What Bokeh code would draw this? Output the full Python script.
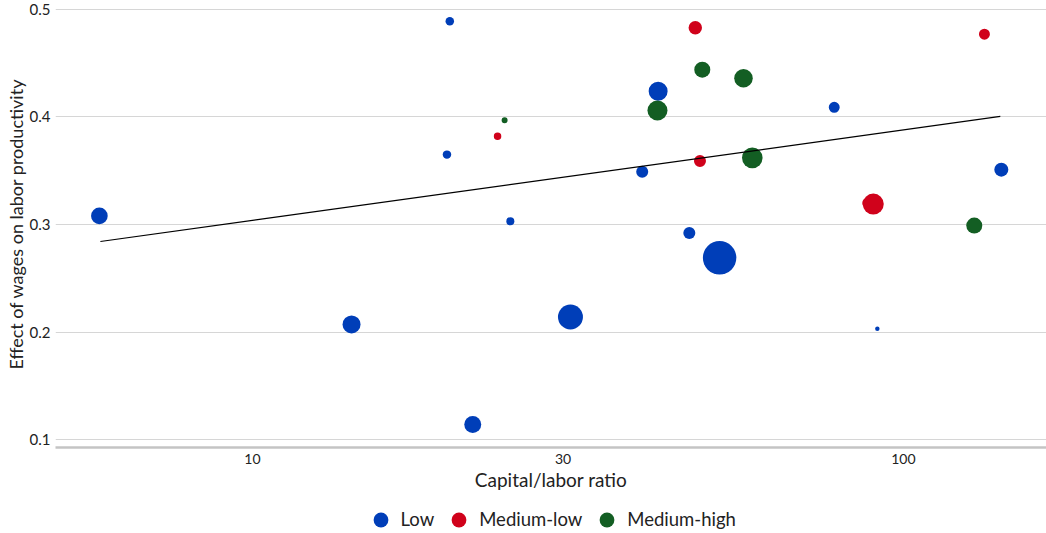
import numpy as np
from bokeh.plotting import figure
from bokeh.layouts import column
from bokeh.models import (ColumnDataSource, FixedTicker, NumeralTickFormatter, Legend,
                          LegendItem, Range1d)
from bokeh.embed import file_html
from bokeh.resources import INLINE

# ---- data ----
low_x = [5.82, 14.2, 20.1, 19.9, 21.8, 24.9, 30.8, 39.7, 42.0, 46.9, 52.2, 78.3, 91.2, 141.4]
low_y = [0.308, 0.207, 0.489, 0.365, 0.114, 0.303, 0.214, 0.349, 0.424, 0.292, 0.269, 0.409, 0.203, 0.351]
low_w = [69, 81, 18, 18, 72, 16, 156, 36, 90, 36, 280, 30, 5, 49]

medlow_x = [47.9, 23.8, 48.7, 88.0, 89.9, 133.2]
medlow_y = [0.483, 0.382, 0.359, 0.320, 0.319, 0.477]
medlow_w = [45, 14, 36, 25, 110, 30]

medhigh_x = [24.4, 41.9, 49.1, 56.8, 58.6, 128.5]
medhigh_y = [0.397, 0.406, 0.444, 0.436, 0.362, 0.299]
medhigh_w = [9, 100, 64, 86, 106, 64]

trend_x = [5.84, 140.9]
trend_y = [0.2842, 0.4005]

categories = ["Low", "Medium-low", "Medium-high"]
x_ticks = [10, 30, 100]
y_ticks = [0.1, 0.2, 0.3, 0.4, 0.5]

FONT = "Lato"
COLORS = ["#003EB8", "#D0021B", "#135E23"]
TXT = "#222222"

p = figure(width=1046, height=500, x_axis_type="log", output_backend="svg",
           toolbar_location=None, min_border_left=55, min_border_right=0,
           min_border_top=0, min_border_bottom=53)
p.x_range = Range1d(4.983, 165.9)
p.y_range = Range1d(0.09256, 0.50837)
p.outline_line_color = None
p.background_fill_color = "white"


def src(xs, ys, ws):
    return ColumnDataSource(dict(x=xs, y=ys, d=[2 * np.sqrt(w) for w in ws]))


groups = [(low_x, low_y, low_w), (medlow_x, medlow_y, medlow_w),
          (medhigh_x, medhigh_y, medhigh_w)]
for (gx, gy, gw), c in zip(groups, COLORS):
    p.scatter("x", "y", size="d", source=src(gx, gy, gw), fill_color=c, line_color=None)
p.line(trend_x, trend_y, line_color="black", line_width=1.2)

# axes
p.xaxis.ticker = FixedTicker(ticks=x_ticks)
p.xaxis.formatter = NumeralTickFormatter(format="0")
p.xaxis.minor_tick_line_color = None
p.xaxis.major_tick_line_color = None
p.xaxis.major_tick_out = 0
p.xaxis.major_tick_in = 0
p.xaxis.minor_tick_out = 0
p.xaxis.axis_line_color = "#c4c4c4"
p.xaxis.axis_line_width = 2.5
p.xaxis.major_label_text_font = FONT
p.xaxis.major_label_text_font_size = "14px"
p.xaxis.major_label_text_color = TXT
p.xaxis.major_label_standoff = 6
p.xaxis.axis_label = "Capital/labor ratio"
p.xaxis.axis_label_text_font = FONT
p.xaxis.axis_label_text_font_size = "19px"
p.xaxis.axis_label_text_font_style = "normal"
p.xaxis.axis_label_text_color = TXT
p.xaxis.axis_label_standoff = 1

p.yaxis.ticker = FixedTicker(ticks=y_ticks)
p.yaxis.minor_tick_line_color = None
p.yaxis.major_tick_line_color = None
p.yaxis.major_tick_out = 0
p.yaxis.major_tick_in = 0
p.yaxis.minor_tick_out = 0
p.yaxis.axis_line_color = None
p.yaxis.major_label_text_font = FONT
p.yaxis.major_label_text_font_size = "15px"
p.yaxis.major_label_text_color = TXT
p.yaxis.major_label_standoff = 5
p.yaxis.axis_label = "Effect of wages on labor productivity"
p.yaxis.axis_label_text_font = FONT
p.yaxis.axis_label_text_font_size = "18px"
p.yaxis.axis_label_text_font_style = "normal"
p.yaxis.axis_label_text_color = TXT
p.yaxis.axis_label_standoff = 0

p.xgrid.grid_line_color = None
p.ygrid.ticker = FixedTicker(ticks=y_ticks)
p.ygrid.grid_line_color = "#d6d6d6"
p.ygrid.grid_line_width = 1

# legend strip below the chart (its stand-in markers lie outside its 0..1 ranges)
lg = figure(width=1046, height=33, output_backend="svg", toolbar_location=None,
            x_axis_location=None, y_axis_location=None,
            min_border_left=0, min_border_right=0, min_border_top=0, min_border_bottom=0,
            x_range=Range1d(0, 1), y_range=Range1d(0, 1))
lg.outline_line_color = None
lg.grid.visible = False
items = []
for cat, c, (gx, gy, gw) in zip(categories, COLORS, groups):
    r = lg.scatter(x=[gx[0]], y=[gy[0]], size=14, fill_color=c, line_color=None)
    items.append(LegendItem(label=cat, renderers=[r]))
legend = Legend(items=items, orientation="horizontal", location=(306.5, -4.5),
                glyph_width=37, glyph_height=37, label_standoff=2, spacing=6,
                padding=0, margin=0, border_line_color=None,
                background_fill_alpha=0,
                label_text_font=FONT, label_text_font_size="18.5px",
                label_text_color=TXT)
lg.add_layout(legend, "center")

layout = column(p, lg, spacing=0)
open("out.html", "w").write(file_html(layout, INLINE))
